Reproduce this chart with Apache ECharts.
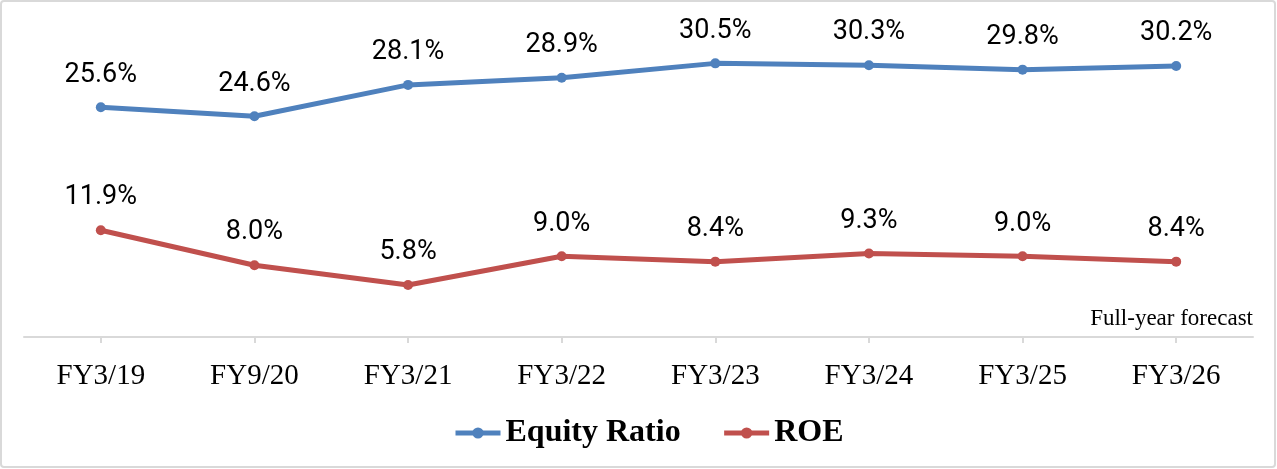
<!DOCTYPE html>
<html>
<head>
<meta charset="utf-8">
<script src="https://cdn.jsdelivr.net/npm/echarts@6/dist/echarts.min.js"></script>
<style>
html,body{margin:0;padding:0;background:#fff;}
#chart{width:1277px;height:469px;}
</style>
</head>
<body>
<div id="chart"></div>
<script>
const categories = ['FY3/19','FY9/20','FY3/21','FY3/22','FY3/23','FY3/24','FY3/25','FY3/26'];
const equityRatio = [25.6, 24.6, 28.1, 28.9, 30.5, 30.3, 29.8, 30.2];
const roe = [11.9, 8.0, 5.8, 9.0, 8.4, 9.3, 9.0, 8.4];
const seriesNames = ['Equity Ratio', 'ROE'];
const note = 'Full-year forecast';

const labelFont = '"Roboto", "Liberation Sans", sans-serif';
const serifFont = '"Liberation Serif", "Times New Roman", serif';

const chart = echarts.init(document.getElementById('chart'));

function lineSeries(name, data, color) {
  return {
    name: name,
    type: 'line',
    data: data,
    symbol: 'circle',
    symbolSize: 10,
    lineStyle: { color: color, width: 5 },
    itemStyle: { color: color },
    label: {
      show: true,
      position: 'top',
      distance: 14,
      formatter: p => p.value.toFixed(1) + '%',
      fontFamily: labelFont,
      fontSize: 27,
      color: '#000'
    },
    emphasis: { disabled: true },
    animation: false
  };
}

chart.setOption({
  animation: false,
  grid: { left: 24, right: 24, top: 23, bottom: 132, containLabel: false },
  title: {
    text: note,
    right: 24,
    top: 307,
    textStyle: { fontFamily: serifFont, fontSize: 23, fontWeight: 'normal', color: '#000' },
    padding: 0
  },
  legend: {
    left: 448,
    top: 412,
    itemWidth: 45,
    itemHeight: 14,
    itemGap: 41,
    lineStyle: { width: 5 },
    textStyle: { fontFamily: serifFont, fontSize: 32, fontWeight: 'bold', color: '#000', padding: [0,0,0,0] },
    data: seriesNames
  },
  xAxis: {
    type: 'category',
    data: categories,
    boundaryGap: true,
    axisLine: { lineStyle: { color: '#d9d9d9', width: 2 } },
    axisTick: { show: true, alignWithLabel: true, length: 6, lineStyle: { color: '#d9d9d9', width: 2 } },
    axisLabel: { fontFamily: serifFont, fontSize: 29, color: '#000', margin: 25 }
  },
  yAxis: {
    type: 'value',
    min: 0,
    max: 35,
    interval: 5,
    show: false,
    splitLine: { show: false }
  },
  graphic: [{
    type: 'rect',
    shape: { x: 1, y: 1, width: 1274, height: 466, r: 3 },
    style: { fill: 'none', stroke: '#d9d9d9', lineWidth: 2 },
    silent: true
  }],
  series: [
    lineSeries(seriesNames[0], equityRatio, '#4f81bd'),
    lineSeries(seriesNames[1], roe, '#c0504d')
  ]
});
</script>
</body>
</html>
